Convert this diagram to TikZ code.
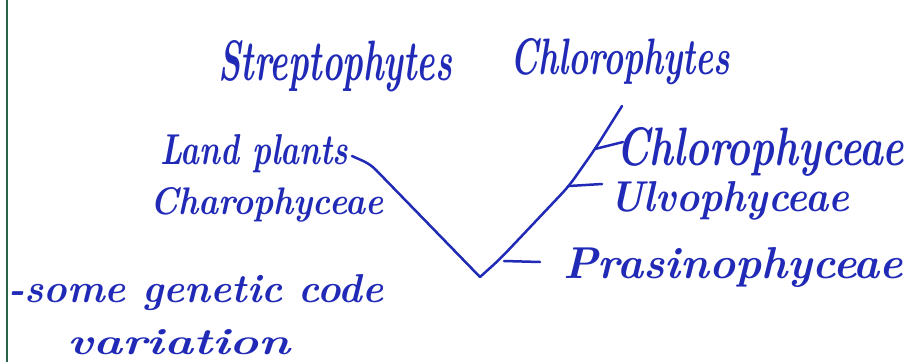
\documentclass[tikz,border=0pt]{standalone}
\usepackage{graphicx}
\definecolor{ink}{RGB}{32,42,182}
\definecolor{margin}{RGB}{40,100,70}
\begin{document}
\begin{tikzpicture}[x=1pt,y=-1pt,
  lbl/.style={anchor=base west,inner sep=0pt,text=ink,font=\bfseries\itshape},
  stroke/.style={draw=ink,line width=2.5pt,line cap=round,line join=round}]
\useasboundingbox (0,0) rectangle (912,362);
\fill[white] (0,0) rectangle (912,362);
\draw[margin,line width=1.8pt] (7,0) -- (7,362);
% labels
\node[lbl] (strep) at (218,80) {\resizebox{234pt}{40pt}{Streptophytes}};
\node[lbl] (chlo)  at (510,74) {\resizebox{220pt}{36pt}{Chlorophytes}};
\node[lbl] (lp)    at (160,164) {\resizebox{188pt}{30pt}{Land plants}};
\node[lbl] (charo) at (150,214) {\resizebox{233pt}{27pt}{Charophyceae}};
\node[lbl] (chlc)  at (616,165) {\resizebox{288pt}{38pt}{Chlorophyceae}};
\node[lbl] (ulvo)  at (609,211) {\resizebox{240pt}{30pt}{Ulvophyceae}};
\node[lbl] (pras)  at (563,278) {\resizebox{340pt}{31pt}{Prasinophyceae}};
\node[lbl] (gen1)  at (8,302) {\resizebox{375pt}{28pt}{-some genetic code}};
\node[lbl] (gen2)  at (67,354) {\resizebox{223pt}{25pt}{variation}};
% tree
\coordinate (apex) at (480,277);
\coordinate (lpend) at (352,156);
\coordinate (lbend) at (376,170);
\coordinate (ctop) at (622,106);
\coordinate (r1) at (500,259);
\coordinate (r2) at (569,186);
\coordinate (r3) at (595,149);
\coordinate (cte) at (623,142);
\coordinate (ute) at (602,184);
\coordinate (pts) at (504,261);
\coordinate (pte) at (540,262);
\draw[stroke] (lpend) to[out=-25,in=135] (lbend) -- (apex);
\draw[stroke,rounded corners=10pt] (apex) -- (r1) -- (r2) -- (r3) -- (ctop);
\draw[stroke] (r3) -- (cte);
\draw[stroke] (r2) -- (ute);
\draw[stroke] (pts) -- (pte);
\end{tikzpicture}
\end{document}
